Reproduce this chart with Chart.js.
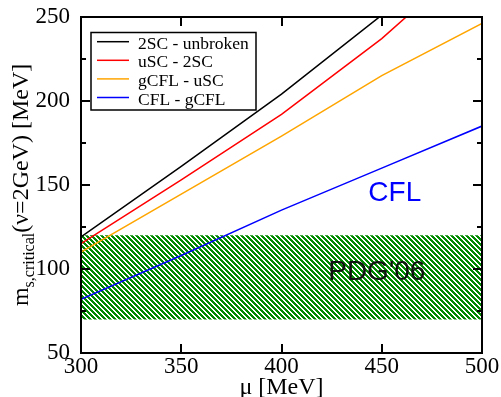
<!DOCTYPE html>
<html>
<head>
<meta charset="utf-8">
<script src="https://cdn.jsdelivr.net/npm/chart.js@4/dist/chart.umd.min.js"></script>
<style>
  html, body { margin: 0; padding: 0; background: #fff; }
  #wrap { width: 501px; height: 397px; }
</style>
</head>
<body>
<div id="wrap"><canvas id="c" width="501" height="397"></canvas></div>
<script>
"use strict";

// values
const mu = [300, 350, 400, 450, 500];
const unbroken2SC = [119, 161, 204, 251, 297];
const uSC2SC = [115, 153, 192, 237, 290];
const gCFLuSC = [110, 144.5, 179, 215, 246];
const CFLgCFL = [82, 108, 135, 160, 185];
const bandMu = [300, 500];
const pdgLow = [70, 70];
const pdgHigh = [120, 120];
const xTicks = [300, 350, 400, 450, 500];
const yTicks = [50, 100, 150, 200, 250];
const yMinor = [75, 125, 175, 225];
const legendNames = ["2SC - unbroken", "uSC - 2SC", "gCFL - uSC", "CFL - gCFL"];

const SERIF = "'Liberation Serif', 'Times New Roman', serif";
const SANS = "'Liberation Sans', Arial, sans-serif";
const COLORS = ["#000000", "#ff0000", "#ffa500", "#0000ff"];
const GREEN = "rgb(0,138,0)";

const pts = (xs, ys) => xs.map((x, i) => ({ x: x, y: ys[i] }));

function hatch() {
  const n = 5;
  const t = document.createElement("canvas");
  t.width = n; t.height = n;
  const g = t.getContext("2d");
  g.fillStyle = "#fff";
  g.fillRect(0, 0, n, n);
  g.fillStyle = GREEN;
  for (let y = 0; y < n; y++)
    for (let x = 0; x < n; x++)
      if (((x - y) % n + n) % n < 3) g.fillRect(x, y, 1, 1);
  return document.getElementById("c").getContext("2d").createPattern(t, "repeat");
}

const line = (label, ys, color) => ({
  label: label, data: pts(mu, ys), borderColor: color, borderWidth: 1.5,
  pointRadius: 0, fill: false, tension: 0, order: 0,
});

const decor = {
  id: "decor",
  afterDatasetsDraw(chart) {
    const ctx = chart.ctx, x = chart.scales.x, y = chart.scales.y;
    ctx.save();
    ctx.fillStyle = "#0000ff";
    ctx.font = "28px " + SANS;
    ctx.textBaseline = "alphabetic";
    ctx.fillText("CFL", x.getPixelForValue(443.3), y.getPixelForValue(140.2));
    ctx.fillStyle = "#111";
    ctx.fillText("PDG'06", x.getPixelForValue(423.3), y.getPixelForValue(93.3));
    ctx.restore();
  },
  afterDraw(chart) {
    const ctx = chart.ctx, a = chart.chartArea, x = chart.scales.x, y = chart.scales.y;
    const L = Math.round(a.left), R = Math.round(a.right);
    const T = Math.round(a.top), B = Math.round(a.bottom);
    ctx.save();
    const seg = (x1, y1, x2, y2) => {
      ctx.beginPath(); ctx.moveTo(x1, y1); ctx.lineTo(x2, y2); ctx.stroke();
    };
    // frame
    ctx.strokeStyle = "#000";
    ctx.lineWidth = 2;
    ctx.strokeRect(L, T, R - L, B - T);
    // inward ticks
    xTicks.slice(1, -1).forEach((v) => {
      const px = Math.round(x.getPixelForValue(v));
      seg(px, B, px, B - 9);
      seg(px, T, px, T + 9);
    });
    yTicks.slice(1, -1).forEach((v) => {
      const py = Math.round(y.getPixelForValue(v));
      seg(L, py, L + 9, py);
      seg(R, py, R - 9, py);
    });
    yMinor.forEach((v) => {
      const py = Math.round(y.getPixelForValue(v));
      seg(L, py, L + 5, py);
      seg(R, py, R - 5, py);
    });

    // legend
    ctx.lineWidth = 1.5;
    ctx.strokeRect(91, 32.5, 165, 77.5);
    ctx.font = "17.5px " + SERIF;
    ctx.textBaseline = "alphabetic";
    legendNames.forEach((name, i) => {
      const ry = 41.7 + i * 18.6;
      ctx.strokeStyle = COLORS[i];
      ctx.lineWidth = 1.5;
      seg(97, ry, 129, ry);
      ctx.fillStyle = "#000";
      ctx.fillText(name, 138, ry + 7);
    });

    // axis titles
    ctx.fillStyle = "#000";
    ctx.font = "24px " + SERIF;
    ctx.textAlign = "center";
    ctx.fillText("\u03bc [MeV]", (a.left + a.right) / 2, 394);

    ctx.translate(28, (a.top + a.bottom) / 2);
    ctx.rotate(-Math.PI / 2);
    ctx.textAlign = "left";
    const main = "24px " + SERIF, sub = "16px " + SERIF;
    ctx.font = main; const w1 = ctx.measureText("m").width;
    const w3 = ctx.measureText("(\u03bd=2GeV) [MeV]").width;
    ctx.font = sub; const w2 = ctx.measureText("s,critical").width;
    let px = -(w1 + w2 + w3) / 2;
    ctx.font = main; ctx.fillText("m", px, 0); px += w1;
    ctx.font = sub; ctx.fillText("s,critical", px, 6); px += w2;
    ctx.font = main; ctx.fillText("(\u03bd=2GeV) [MeV]", px, 0);
    ctx.restore();
  },
};

new Chart(document.getElementById("c"), {
  type: "line",
  data: {
    datasets: [
      line(legendNames[0], unbroken2SC, COLORS[0]),
      line(legendNames[1], uSC2SC, COLORS[1]),
      line(legendNames[2], gCFLuSC, COLORS[2]),
      line(legendNames[3], CFLgCFL, COLORS[3]),
      { label: "PDG hi", data: pts(bandMu, pdgHigh), borderWidth: 0, pointRadius: 0,
        fill: "+1", backgroundColor: hatch(), order: 10 },
      { label: "PDG lo", data: pts(bandMu, pdgLow), borderWidth: 0, pointRadius: 0,
        fill: false, order: 11 },
    ],
  },
  options: {
    responsive: false,
    devicePixelRatio: 1,
    animation: false,
    layout: { autoPadding: false, padding: { top: 16, right: 19, left: 0, bottom: 0 } },
    plugins: { legend: { display: false }, tooltip: { enabled: false } },
    scales: {
      x: {
        type: "linear", min: 300, max: 500,
        afterBuildTicks: (s) => { s.ticks = xTicks.map((v) => ({ value: v })); },
        afterFit: (s) => { s.height = 44; },
        grid: { display: false }, border: { display: false },
        ticks: { color: "#000", font: { family: SERIF, size: 23 }, padding: -8, maxRotation: 0 },
      },
      y: {
        min: 50, max: 250,
        afterBuildTicks: (s) => { s.ticks = yTicks.map((v) => ({ value: v })); },
        afterFit: (s) => { s.width = 81; },
        grid: { display: false }, border: { display: false },
        ticks: { color: "#000", font: { family: SERIF, size: 23 }, padding: 3 },
      },
    },
  },
  plugins: [decor],
});
</script>
</body>
</html>
